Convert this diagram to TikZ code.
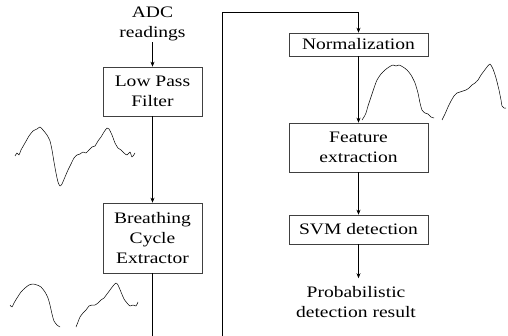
\documentclass[tikz,border=0pt]{standalone}
\usepackage{fontspec}
\setmainfont{Liberation Serif}
\usepackage{graphicx}
\usepackage{tikz}
\usetikzlibrary{arrows.meta,positioning}
\newcommand{\wide}[1]{\scalebox{1.22}[1]{#1}}
\tikzset{
  block/.style={draw=black!75,line width=0.6pt,fill=white,align=center,inner sep=1pt},
  label/.style={align=center,inner sep=1pt},
  flow/.style={-{Stealth[length=5pt,width=4pt]},draw=black,line width=0.6pt},
  link/.style={draw=black,line width=0.6pt},
  wave/.style={draw=black,line width=0.5pt,line join=round}
}
\begin{document}
\begin{tikzpicture}[x=1pt,y=-1pt,font=\fontsize{16}{20}\selectfont]
\useasboundingbox (0,0) rectangle (508,336);
% left column
\node[label] (adc) at (152.5,24) {\wide{ADC}\\\wide{readings}};
\node[block,minimum width=99pt,minimum height=49pt] (lpf) at (152.5,91.5) {\wide{Low Pass}\\\wide{Filter}};
\node[block,minimum width=99pt,minimum height=70pt] (bce) at (152.5,238) {\wide{Breathing}\\\wide{Cycle}\\\wide{Extractor}};
\coordinate (exitL) at (152.5,336);
% right column
\node[block,minimum width=139pt,minimum height=23pt] (norm) at (358.5,44.5) {\wide{Normalization}};
\node[block,minimum width=139pt,minimum height=49pt] (feat) at (358.5,147.5) {\wide{Feature}\\\wide{extraction}};
\node[block,minimum width=139pt,minimum height=29pt] (svm) at (358.5,229.5) {\wide{SVM detection}};
\node[label] (prob) at (356,302) {\wide{Probabilistic}\\\wide{detection result}};
\coordinate (entryR) at (222,336);
\coordinate (topR) at (222,12);
% connectors
\draw[flow] (adc) -- (lpf);
\draw[flow] (lpf) -- (bce);
\draw[link] (bce) -- (exitL);
\draw[flow] (entryR) -- (topR) -| (norm);
\draw[flow] (norm) -- (feat);
\draw[flow] (feat) -- (svm);
\draw[flow,shorten >=7pt] (svm) -- (svm |- prob.north);
% signal traces
\draw[wave] plot[smooth,tension=0.4] coordinates {(15,156) (17,153) (19,155) (21,150) (25,143) (29,136) (33,131) (37,129) (40,127) (43,130) (47,135) (50,141) (52,150) (54,162) (56,173) (58,182) (60,186) (62,184) (65,177) (68,170) (71,164) (74,158) (77,155) (80,154) (83,152) (86,153) (89,150) (92,147) (95,146) (98,141) (101,137) (104,132) (107,128) (109,129) (112,135) (115,143) (118,148) (121,150) (124,153) (127,155) (130,152) (132,157) (135,153)};
\draw[wave] plot[smooth,tension=0.4] coordinates {(10,305) (12,307) (14,303) (17,298) (21,292) (25,288) (29,285) (33,284) (37,285) (41,287) (45,292) (48,298) (50,305) (52,314) (54,321) (57,325) (60,327)};
\draw[wave] plot[smooth,tension=0.4] coordinates {(76,327) (78,322) (80,317) (83,313) (86,310) (89,306) (92,305) (95,305) (98,303) (101,300) (104,298) (107,294) (110,290) (113,286) (116,283) (118,285) (121,292) (124,299) (127,303) (130,306) (133,305) (136,306) (138,302)};
\draw[wave] plot[smooth,tension=0.4] coordinates {(362,120) (364,117) (366,113) (368,106) (371,97) (374,88) (377,80) (381,74) (385,70) (389,67) (393,65) (396,66) (399,65) (403,67) (407,70) (411,75) (415,83) (418,93) (420,103) (422,110) (425,113) (428,114) (431,117) (434,118)};
\draw[wave] plot[smooth,tension=0.4] coordinates {(442,120) (445,114) (448,107) (451,101) (454,96) (457,93) (460,92) (463,91) (466,90) (469,88) (472,85) (475,83) (478,80) (481,75) (484,71) (487,67) (490,64) (493,69) (496,78) (499,90) (501,100) (502,106) (504,108) (506,108)};
\end{tikzpicture}
\end{document}
